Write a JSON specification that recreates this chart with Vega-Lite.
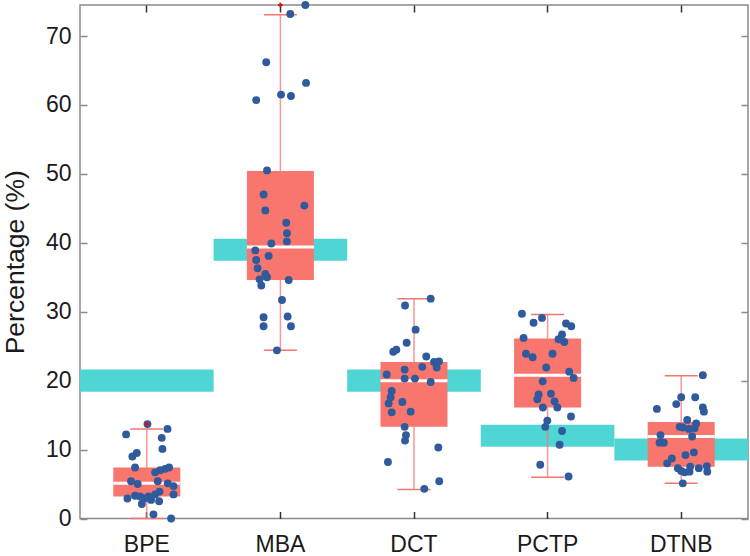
{
  "$schema": "https://vega.github.io/schema/vega-lite/v6.json",
  "autosize": {"type": "none"},
  "width": 668,
  "height": 513.5,
  "padding": {"left": 80, "top": 5, "right": 2, "bottom": 37.5},
  "background": "white",
  "config": {
    "view": {"stroke": "#8a8a8a", "strokeWidth": 1.5},
    "font": "Liberation Sans",
    "axis": {
      "domain": false,
      "grid": false,
      "labelFont": "Liberation Sans",
      "titleFont": "Liberation Sans",
      "labelFontSize": 23,
      "titleFontSize": 26.5,
      "labelColor": "#1a1a1a",
      "titleColor": "#1a1a1a",
      "titleFontWeight": "normal",
      "tickWidth": 1.5
    }
  },
  "datasets": {
    "stats": [
      {"method": "BPE", "q1": 3.2, "median": 5.1, "q3": 7.4, "lo": 0.0, "hi": 13.0, "ref_lo": 18.4, "ref_hi": 21.6},
      {"method": "MBA", "q1": 34.6, "median": 39.4, "q3": 50.4, "lo": 24.4, "hi": 73.1, "ref_lo": 37.4, "ref_hi": 40.6},
      {"method": "DCT", "q1": 13.3, "median": 20.0, "q3": 22.7, "lo": 4.2, "hi": 31.9, "ref_lo": 18.4, "ref_hi": 21.6},
      {"method": "PCTP", "q1": 16.1, "median": 20.8, "q3": 26.1, "lo": 6.0, "hi": 29.6, "ref_lo": 10.4, "ref_hi": 13.6},
      {"method": "DTNB", "q1": 7.5, "median": 11.9, "q3": 14.0, "lo": 5.1, "hi": 20.7, "ref_lo": 8.4, "ref_hi": 11.6}
    ],
    "outliers": [
      {"method": "BPE", "value": 13.7},
      {"method": "MBA", "value": 74.5}
    ],
    "points": [
      {"method": "BPE", "value": 13.7, "jit": 0.005},
      {"method": "BPE", "value": 12.2, "jit": -0.155},
      {"method": "BPE", "value": 13.0, "jit": 0.155},
      {"method": "BPE", "value": 11.7, "jit": 0.112},
      {"method": "BPE", "value": 10.1, "jit": 0.117},
      {"method": "BPE", "value": 9.0, "jit": -0.108},
      {"method": "BPE", "value": 9.5, "jit": -0.075},
      {"method": "BPE", "value": 7.4, "jit": -0.088},
      {"method": "BPE", "value": 6.7, "jit": 0.062},
      {"method": "BPE", "value": 7.0, "jit": 0.1},
      {"method": "BPE", "value": 7.2, "jit": 0.137},
      {"method": "BPE", "value": 7.4, "jit": 0.167},
      {"method": "BPE", "value": 5.4, "jit": -0.118},
      {"method": "BPE", "value": 5.0, "jit": -0.068},
      {"method": "BPE", "value": 5.4, "jit": 0.082},
      {"method": "BPE", "value": 5.1, "jit": 0.157},
      {"method": "BPE", "value": 4.7, "jit": 0.2},
      {"method": "BPE", "value": 2.9, "jit": -0.145},
      {"method": "BPE", "value": 3.3, "jit": -0.088},
      {"method": "BPE", "value": 3.2, "jit": -0.05},
      {"method": "BPE", "value": 2.9, "jit": -0.018},
      {"method": "BPE", "value": 3.2, "jit": 0.012},
      {"method": "BPE", "value": 3.5, "jit": 0.062},
      {"method": "BPE", "value": 3.9, "jit": 0.095},
      {"method": "BPE", "value": 2.1, "jit": -0.037},
      {"method": "BPE", "value": 2.7, "jit": 0.032},
      {"method": "BPE", "value": 2.5, "jit": 0.092},
      {"method": "BPE", "value": 3.5, "jit": 0.2},
      {"method": "BPE", "value": 0.6, "jit": 0.05},
      {"method": "BPE", "value": 0.0, "jit": 0.182},
      {"method": "MBA", "value": 74.5, "jit": 0.187},
      {"method": "MBA", "value": 73.2, "jit": 0.074},
      {"method": "MBA", "value": 66.2, "jit": -0.106},
      {"method": "MBA", "value": 63.2, "jit": 0.192},
      {"method": "MBA", "value": 60.7, "jit": -0.181},
      {"method": "MBA", "value": 61.5, "jit": 0.005},
      {"method": "MBA", "value": 61.3, "jit": 0.079},
      {"method": "MBA", "value": 50.5, "jit": -0.1},
      {"method": "MBA", "value": 47.0, "jit": -0.126},
      {"method": "MBA", "value": 45.4, "jit": 0.179},
      {"method": "MBA", "value": 44.7, "jit": -0.113},
      {"method": "MBA", "value": 42.9, "jit": 0.044},
      {"method": "MBA", "value": 41.4, "jit": 0.049},
      {"method": "MBA", "value": 40.2, "jit": 0.049},
      {"method": "MBA", "value": 39.9, "jit": -0.068},
      {"method": "MBA", "value": 38.9, "jit": -0.188},
      {"method": "MBA", "value": 38.1, "jit": -0.088},
      {"method": "MBA", "value": 37.5, "jit": -0.181},
      {"method": "MBA", "value": 36.3, "jit": -0.171},
      {"method": "MBA", "value": 35.5, "jit": -0.113},
      {"method": "MBA", "value": 34.7, "jit": -0.156},
      {"method": "MBA", "value": 35.0, "jit": -0.1},
      {"method": "MBA", "value": 33.8, "jit": -0.143},
      {"method": "MBA", "value": 34.6, "jit": 0.062},
      {"method": "MBA", "value": 31.7, "jit": 0.012},
      {"method": "MBA", "value": 29.2, "jit": -0.126},
      {"method": "MBA", "value": 29.3, "jit": 0.054},
      {"method": "MBA", "value": 27.9, "jit": -0.126},
      {"method": "MBA", "value": 27.9, "jit": 0.079},
      {"method": "MBA", "value": 24.4, "jit": -0.026},
      {"method": "DCT", "value": 31.9, "jit": 0.125},
      {"method": "DCT", "value": 30.9, "jit": -0.067},
      {"method": "DCT", "value": 27.4, "jit": 0.012},
      {"method": "DCT", "value": 25.5, "jit": -0.055},
      {"method": "DCT", "value": 24.2, "jit": -0.155},
      {"method": "DCT", "value": 24.5, "jit": -0.132},
      {"method": "DCT", "value": 23.5, "jit": 0.092},
      {"method": "DCT", "value": 22.7, "jit": 0.15},
      {"method": "DCT", "value": 22.8, "jit": 0.187},
      {"method": "DCT", "value": 21.9, "jit": 0.17},
      {"method": "DCT", "value": 22.0, "jit": 0.062},
      {"method": "DCT", "value": 20.9, "jit": -0.204},
      {"method": "DCT", "value": 21.6, "jit": -0.07},
      {"method": "DCT", "value": 20.3, "jit": -0.07},
      {"method": "DCT", "value": 20.3, "jit": 0.007},
      {"method": "DCT", "value": 19.8, "jit": 0.125},
      {"method": "DCT", "value": 18.5, "jit": -0.167},
      {"method": "DCT", "value": 17.6, "jit": -0.175},
      {"method": "DCT", "value": 16.7, "jit": -0.19},
      {"method": "DCT", "value": 16.9, "jit": -0.087},
      {"method": "DCT", "value": 15.4, "jit": -0.167},
      {"method": "DCT", "value": 15.5, "jit": -0.025},
      {"method": "DCT", "value": 13.3, "jit": -0.07},
      {"method": "DCT", "value": 12.1, "jit": -0.06},
      {"method": "DCT", "value": 11.3, "jit": -0.067},
      {"method": "DCT", "value": 10.3, "jit": 0.182},
      {"method": "DCT", "value": 8.2, "jit": -0.195},
      {"method": "DCT", "value": 5.4, "jit": 0.189},
      {"method": "DCT", "value": 4.3, "jit": 0.077},
      {"method": "PCTP", "value": 29.7, "jit": -0.192},
      {"method": "PCTP", "value": 29.1, "jit": -0.042},
      {"method": "PCTP", "value": 28.4, "jit": -0.105},
      {"method": "PCTP", "value": 28.3, "jit": 0.138},
      {"method": "PCTP", "value": 27.9, "jit": 0.177},
      {"method": "PCTP", "value": 26.7, "jit": 0.108},
      {"method": "PCTP", "value": 26.0, "jit": 0.082},
      {"method": "PCTP", "value": 25.6, "jit": 0.125},
      {"method": "PCTP", "value": 26.2, "jit": -0.18},
      {"method": "PCTP", "value": 23.9, "jit": -0.162},
      {"method": "PCTP", "value": 23.4, "jit": -0.112},
      {"method": "PCTP", "value": 23.9, "jit": 0.037},
      {"method": "PCTP", "value": 21.9, "jit": -0.01},
      {"method": "PCTP", "value": 21.3, "jit": 0.162},
      {"method": "PCTP", "value": 20.4, "jit": 0.195},
      {"method": "PCTP", "value": 19.9, "jit": -0.037},
      {"method": "PCTP", "value": 18.0, "jit": -0.067},
      {"method": "PCTP", "value": 17.3, "jit": -0.077},
      {"method": "PCTP", "value": 18.1, "jit": 0.025},
      {"method": "PCTP", "value": 17.0, "jit": 0.052},
      {"method": "PCTP", "value": 16.1, "jit": 0.073},
      {"method": "PCTP", "value": 16.1, "jit": -0.035},
      {"method": "PCTP", "value": 14.8, "jit": 0.175},
      {"method": "PCTP", "value": 14.2, "jit": -0.002},
      {"method": "PCTP", "value": 13.3, "jit": -0.017},
      {"method": "PCTP", "value": 12.7, "jit": 0.108},
      {"method": "PCTP", "value": 10.7, "jit": 0.09},
      {"method": "PCTP", "value": 7.8, "jit": -0.055},
      {"method": "PCTP", "value": 6.1, "jit": 0.157},
      {"method": "DTNB", "value": 20.8, "jit": 0.162},
      {"method": "DTNB", "value": 17.6, "jit": 0.0},
      {"method": "DTNB", "value": 17.6, "jit": 0.105},
      {"method": "DTNB", "value": 16.6, "jit": -0.037},
      {"method": "DTNB", "value": 15.9, "jit": -0.182},
      {"method": "DTNB", "value": 16.1, "jit": 0.162},
      {"method": "DTNB", "value": 15.5, "jit": 0.17},
      {"method": "DTNB", "value": 14.3, "jit": 0.045},
      {"method": "DTNB", "value": 13.8, "jit": 0.112},
      {"method": "DTNB", "value": 13.3, "jit": -0.012},
      {"method": "DTNB", "value": 13.2, "jit": 0.012},
      {"method": "DTNB", "value": 13.0, "jit": 0.057},
      {"method": "DTNB", "value": 13.1, "jit": 0.1},
      {"method": "DTNB", "value": 12.1, "jit": -0.155},
      {"method": "DTNB", "value": 11.9, "jit": 0.082},
      {"method": "DTNB", "value": 11.0, "jit": -0.162},
      {"method": "DTNB", "value": 11.0, "jit": -0.13},
      {"method": "DTNB", "value": 9.6, "jit": 0.095},
      {"method": "DTNB", "value": 9.2, "jit": 0.032},
      {"method": "DTNB", "value": 8.7, "jit": -0.07},
      {"method": "DTNB", "value": 8.0, "jit": -0.105},
      {"method": "DTNB", "value": 7.3, "jit": -0.025},
      {"method": "DTNB", "value": 6.9, "jit": 0.0},
      {"method": "DTNB", "value": 6.7, "jit": 0.025},
      {"method": "DTNB", "value": 7.5, "jit": 0.067},
      {"method": "DTNB", "value": 6.8, "jit": 0.062},
      {"method": "DTNB", "value": 7.3, "jit": 0.132},
      {"method": "DTNB", "value": 7.6, "jit": 0.192},
      {"method": "DTNB", "value": 6.8, "jit": 0.195},
      {"method": "DTNB", "value": 5.1, "jit": 0.012}
    ]
  },
  "resolve": {"scale": {"x": "independent", "xOffset": "independent"}, "axis": {"x": "independent", "y": "independent"}},
  "layer": [
    {
      "data": {"name": "stats"},
      "encoding": {
        "x": {
          "field": "method", "type": "nominal",
          "scale": {"domain": ["BPE", "MBA", "DCT", "PCTP", "DTNB"], "paddingInner": 0, "paddingOuter": 0}
        }
      },
      "resolve": {"axis": {"x": "independent", "y": "independent"}},
      "layer": [
        {
          "mark": {"type": "bar", "color": "#4ED5D4", "width": 133.6},
          "encoding": {
            "x": {"field": "method", "type": "nominal",
              "axis": {"orient": "bottom", "title": null, "labelAngle": 0, "tickSize": -7, "tickColor": "#333333", "labelPadding": 22}},
            "y": {
              "field": "ref_lo", "type": "quantitative",
              "scale": {"domain": [0, 74.5], "nice": false, "zero": true},
              "axis": {"orient": "left", "title": "Percentage (%)", "values": [0, 10, 20, 30, 40, 50, 60, 70], "tickSize": -7, "tickColor": "#8a8a8a", "labelPadding": 16, "titlePadding": 16}
            },
            "y2": {"field": "ref_hi"}
          }
        },
        {
          "mark": {"type": "rule", "color": "#F3776F", "strokeWidth": 1.5, "opacity": 0.75},
          "encoding": {
            "x": {"field": "method", "type": "nominal",
              "axis": {"orient": "top", "labels": false, "title": null, "tickSize": -7, "tickColor": "#333333"}},
            "y": {"field": "lo", "type": "quantitative", "axis": {"orient": "right", "labels": false, "title": null, "values": [0, 10, 20, 30, 40, 50, 60, 70], "tickSize": -7, "tickColor": "#8a8a8a"}},
            "y2": {"field": "hi"}
          }
        },
        {
          "mark": {"type": "bar", "color": "#F8766D", "width": 67},
          "encoding": {
            "x": {"field": "method", "type": "nominal", "axis": null},
            "y": {"field": "q1", "type": "quantitative", "axis": null},
            "y2": {"field": "q3"}
          }
        },
        {
          "mark": {"type": "tick", "color": "white", "size": 67, "thickness": 3, "opacity": 1},
          "encoding": {
            "x": {"field": "method", "type": "nominal", "axis": null},
            "y": {"field": "median", "type": "quantitative", "axis": null}
          }
        },
        {
          "mark": {"type": "tick", "color": "#F3776F", "size": 33, "thickness": 1.5, "opacity": 1},
          "encoding": {
            "x": {"field": "method", "type": "nominal", "axis": null},
            "y": {"field": "hi", "type": "quantitative", "axis": null}
          }
        },
        {
          "mark": {"type": "tick", "color": "#F3776F", "size": 33, "thickness": 1.5, "opacity": 1},
          "encoding": {
            "x": {"field": "method", "type": "nominal", "axis": null},
            "y": {"field": "lo", "type": "quantitative", "axis": null}
          }
        }
      ]
    },
    {
      "data": {"name": "points"},
      "mark": {"type": "circle", "color": "#2F5A9C", "size": 62, "opacity": 1},
      "encoding": {
        "x": {"field": "method", "type": "nominal", "axis": null,
          "scale": {"domain": ["BPE", "MBA", "DCT", "PCTP", "DTNB"], "paddingInner": 0, "paddingOuter": 0}},
        "xOffset": {"field": "jit", "type": "quantitative", "scale": {"domain": [-0.5, 0.5]}},
        "y": {"field": "value", "type": "quantitative", "axis": null}
      }
    },
    {
      "data": {"name": "outliers"},
      "mark": {"type": "point", "shape": "cross", "color": "#D0141E", "filled": true, "size": 22, "opacity": 1},
      "encoding": {
        "x": {"field": "method", "type": "nominal", "axis": null,
          "scale": {"domain": ["BPE", "MBA", "DCT", "PCTP", "DTNB"], "paddingInner": 0, "paddingOuter": 0}},
        "y": {"field": "value", "type": "quantitative", "axis": null}
      }
    }
  ]
}
